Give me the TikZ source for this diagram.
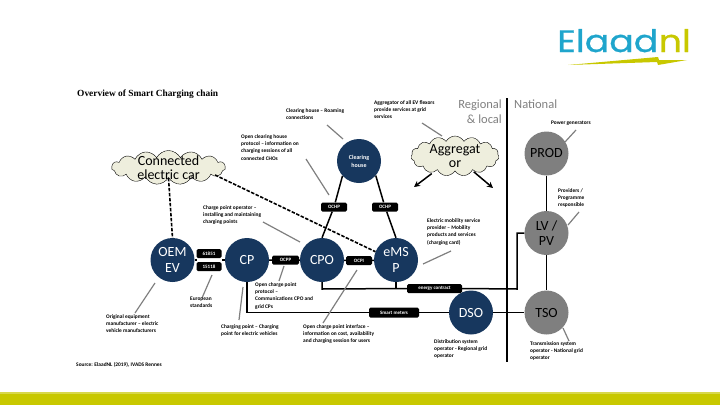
\documentclass[tikz,border=0pt]{standalone}
\usepackage{fontspec}
\setmainfont{Carlito}
\newfontfamily\logofont[FakeBold=0.7]{Poppins}
\newfontfamily\titlefont{Liberation Serif}
\usetikzlibrary{shapes.symbols,arrows.meta}
\definecolor{navy}{HTML}{17375E}
\definecolor{midgray}{HTML}{7F7F7F}
\definecolor{cloudfill}{HTML}{EEEEDD}
\definecolor{bandcol}{HTML}{C8C800}
\definecolor{elblue}{HTML}{1FA5CC}
\tikzset{
  actor/.style={circle,fill=navy,text=white,minimum size=44pt,inner sep=0pt,align=center,font=\fontsize{14}{15.5}\selectfont},
  grayactor/.style={circle,fill=midgray,text=black,minimum size=44pt,inner sep=0pt,align=center,font=\fontsize{14}{15.5}\selectfont},
  proto/.style={fill=black,text=white,rounded corners=1.5pt,inner sep=0pt,font=\fontsize{5}{5}\bfseries\selectfont},
  note/.style={align=left,anchor=north west,inner sep=0pt,yshift=-1.5pt,font=\fontsize{5.4}{7.2}\bfseries\selectfont},
  callout/.style={draw=midgray,line width=1.2pt},
  link/.style={draw=black,line width=1.5pt},
  dashlink/.style={draw=black,line width=1.6pt,dash pattern=on 3.5pt off 1.5pt},
  puff/.style={cloud,cloud puffs=15,cloud puff arc=125,draw=black,fill=cloudfill,cloud ignores aspect,inner sep=-8pt,align=center,font=\fontsize{14}{13.5}\selectfont},
  logotext/.style={inner sep=0pt,anchor=base west,xscale=1.17,transform shape,font=\logofont\fontsize{31}{31}\selectfont}
}
\begin{document}
\begin{tikzpicture}[x=1pt,y=-1pt]
  \useasboundingbox (0,0) rectangle (720,405);
  % bottom band and logo
  \fill[bandcol] (0,393) rectangle (720,405);
  \fill[bandcol!70!white] (0,392) rectangle (720,393.5);
  \node[logotext,text=elblue] (elaad) at (557,52) {Elaad};
  \node[logotext,text=bandcol] (nl) at (elaad.base east) {nl};
  \fill[bandcol] (568,65) -- (658,57) -- (659,60) -- (687,60) -- (658,65) -- (657,62) -- cycle;
  % actors
  \node[actor] (oem) at (172.5,260) {OEM\\EV};
  \node[actor] (cp) at (247,260) {CP};
  \node[actor] (cpo) at (322,260) {CPO};
  \node[actor] (emsp) at (396,260) {eMS\\P};
  \node[actor,font=\fontsize{6}{8}\bfseries\selectfont] (clearing) at (359,161) {Clearing\\house};
  \node[actor] (dso) at (471,312.5) {DSO};
  \node[grayactor] (prod) at (546.5,153.5) {PROD};
  \node[grayactor] (lvpv) at (546.5,233) {LV /\\PV};
  \node[grayactor] (tso) at (546.5,312.5) {TSO};
  \node[puff,minimum width=114pt,minimum height=34pt] (car) at (168.5,167.5) {Connected\\electric car};
  \node[puff,minimum width=88pt,minimum height=40pt] (aggr) at (455,156) {Aggregat\\or};
  % protocol boxes
  \node[proto,minimum width=26pt,minimum height=9pt] (ochpA) at (334,207) {OCHP};
  \node[proto,minimum width=26pt,minimum height=9pt] (ochpB) at (385,207) {OCHP};
  \node[proto,minimum width=27pt,minimum height=9pt] (ocpp) at (285.5,260) {OCPP};
  \node[proto,minimum width=26pt,minimum height=9pt] (ocpi) at (359,260.5) {OCPI};
  \node[proto,minimum width=25pt,minimum height=9pt] (iecA) at (209,253.5) {61851};
  \node[proto,minimum width=25pt,minimum height=9pt] (iecB) at (209,266.5) {15118};
  \node[proto,minimum width=50pt,minimum height=10pt] (meters) at (394,312.5) {Smart meters};
  \node[proto,minimum width=55pt,minimum height=9pt] (contract) at (434.5,288.5) {energy contract};
  % connectors
  \coordinate (gapL) at (197,260);
  \coordinate (gapR) at (222,260);
  \coordinate (frameA) at (247,312.5);
  \coordinate (cpoDown) at (322,289);
  \coordinate (emspDown) at (396,289);
  \coordinate (lvA) at (517,289);
  \coordinate (lvB) at (517,233);
  \coordinate (divTop) at (507,98);
  \coordinate (divEnd) at (507,362);
  \coordinate (carR) at (215,175);
  \draw[link] (clearing.222) -- (ochpA) -- (cpo.north);
  \draw[link] (clearing.-41) -- (ochpB) -- (emsp.north);
  \draw[link] (oem) -- (gapL);
  \draw[link] (gapR) -- (cp);
  \draw[link] (cp) -- (ocpp) -- (cpo) -- (ocpi) -- (emsp);
  \draw[link] (cp.south) -- (frameA) -- (meters) -- (dso) -- (tso);
  \draw[link] (cpo.south) -- (cpoDown) -- (contract.west);
  \draw[link] (emsp.south) -- (emspDown);
  \draw[link] (contract.east) -- (lvA) -- (lvB) -- (lvpv.west);
  \draw[link] (prod) -- (lvpv) -- (tso);
  \draw[link] (divTop) -- (divEnd);
  \draw[dashlink] (car.south) -- (oem.north);
  \draw[dashlink] (carR) -- (emsp.158);
  \coordinate (arrA) at (414,187);
  \coordinate (arrB) at (493,188);
  \draw[link,shorten <=2pt,-{Stealth[length=6pt,width=6pt]}] (aggr) -- (arrA);
  \draw[link,shorten <=2pt,-{Stealth[length=6pt,width=6pt]}] (aggr) -- (arrB);
  % callouts
  \coordinate (cA1) at (327,125); \coordinate (cA2) at (343,139);
  \coordinate (cB1) at (422,123); \coordinate (cB2) at (442,136);
  \coordinate (cC1) at (306,159); \coordinate (cC2) at (329,195);
  \coordinate (cD1) at (263,222); \coordinate (cD2) at (300,242);
  \coordinate (cE1) at (451,251); \coordinate (cE2) at (423,264);
  \coordinate (cF1) at (357,270); \coordinate (cF2) at (323,323);
  \coordinate (cG1) at (284,266); \coordinate (cG2) at (279,281);
  \coordinate (cH1) at (243,287); \coordinate (cH2) at (239,320);
  \coordinate (cI1) at (212,275); \coordinate (cI2) at (202,298);
  \coordinate (cJ1) at (155,283); \coordinate (cJ2) at (135,313);
  \coordinate (cK1) at (576,130); \coordinate (cK2) at (565,142);
  \coordinate (cL1) at (579,212); \coordinate (cL2) at (568,225);
  \coordinate (cM1) at (563,328); \coordinate (cM2) at (569,341);
  \foreach \c in {cA,cB,cC,cD,cE,cF,cG,cH,cI,cJ,cK,cL,cM}
    \draw[callout] (\c1) -- (\c2);
  % notes
  \node[anchor=base west,inner sep=0pt,font=\titlefont\fontsize{9.4}{9.4}\bfseries\selectfont] (title) at (77,96.5) {Overview of Smart Charging chain};
  \node[note] (nClear) at (286,107) {Clearing house -- Roaming\\connections};
  \node[note] (nAggr) at (374,99) {Aggregator of all EV flexors\\provide services at grid\\services};
  \node[note] (nOchp) at (241,133) {Open clearing house\\protocol -- information on\\charging sessions of all\\connected CHOs};
  \node[note] (nCpo) at (203,204) {Charge point operator --\\installing and maintaining\\charging points};
  \node[note] (nEmsp) at (427,217) {Electric mobility service\\provider -- Mobility\\products and services\\(charging card)};
  \node[note] (nOcpp) at (255,281) {Open charge point\\protocol --\\Communications CPO and\\grid CPs};
  \node[note] (nStd) at (190,295) {European\\standards};
  \node[note] (nOem) at (106,313) {Original equipment\\manufacturer -- electric\\vehicle manufacturers};
  \node[note] (nCp) at (221,323) {Charging point -- Charging\\point for electric vehicles};
  \node[note] (nOcpi) at (303,323) {Open charge point interface --\\information on cost, availability\\and charging session for users};
  \node[note] (nDso) at (434,338) {Distribution system\\operator - Regional grid\\operator};
  \node[note] (nTso) at (530,340) {Transmission system\\operator - National grid\\operator};
  \node[note] (nProd) at (551,119) {Power generators};
  \node[note] (nBrp) at (558,187) {Providers /\\Programme\\responsible};
  \node[note] (nSrc) at (76,361) {Source: ElaadNL (2019), IVADS Rennes};
  % levels
  \node[anchor=north east,align=right,inner sep=0pt,text=midgray,font=\fontsize{12.5}{14.5}\selectfont] (regional) at (502,100) {Regional\\\& local};
  \node[anchor=north west,inner sep=0pt,text=midgray,font=\fontsize{12.5}{14.5}\selectfont] (national) at (514,100) {National};
\end{tikzpicture}
\end{document}
